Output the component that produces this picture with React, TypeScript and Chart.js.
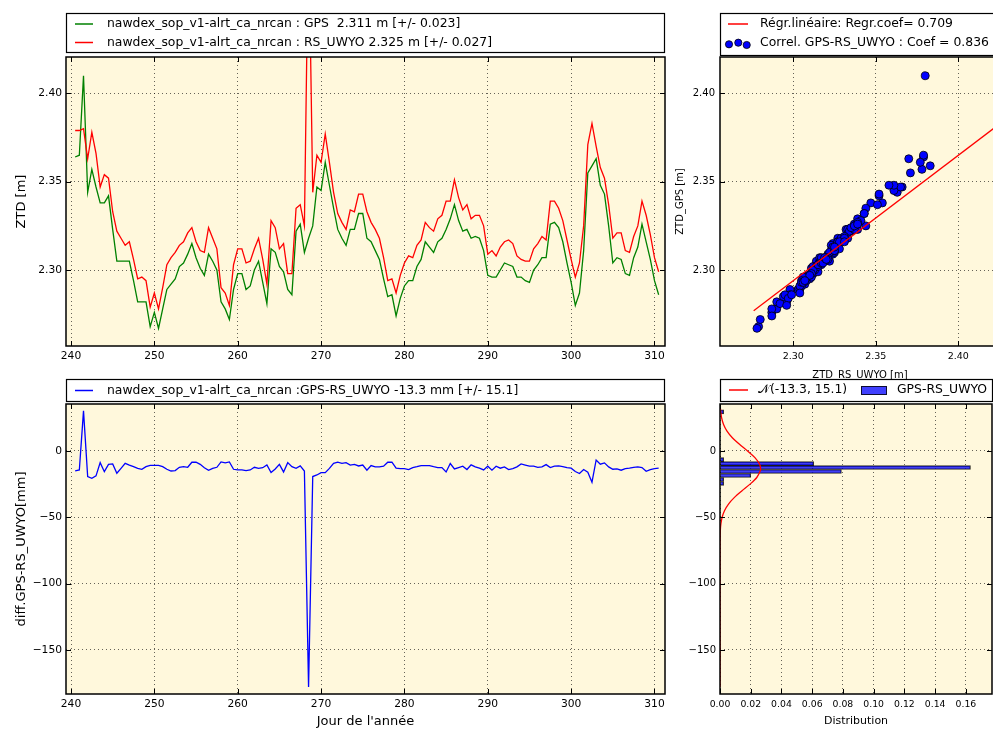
import React, { useEffect, useRef } from "react";
import { Chart, registerables } from "chart.js";

Chart.register(...registerables);

const FONT = '"DejaVu Sans", "Liberation Sans", sans-serif';
const GREEN = "#008000";
const RED = "#ff0000";
const BLUE = "#0000ff";
const HIST_FILL = "rgba(0,0,255,0.75)";
const HIST_EDGE = "rgba(0,0,0,0.8)";
const PLOT_BG = "#fff8dc";
const GRID_COLOR = "rgba(0,0,0,0.6)";

// ---------- data ----------
const DAYS = [
  240.5, 241.0, 241.5, 242.0, 242.5, 243.0, 243.5, 244.0, 244.5, 245.0,
  245.5, 246.0, 246.5, 247.0, 247.5, 248.0, 248.5, 249.0, 249.5, 250.0,
  250.5, 251.0, 251.5, 252.0, 252.5, 253.0, 253.5, 254.0, 254.5, 255.0,
  255.5, 256.0, 256.5, 257.0, 257.5, 258.0, 258.5, 259.0, 259.5, 260.0,
  260.5, 261.0, 261.5, 262.0, 262.5, 263.0, 263.5, 264.0, 264.5, 265.0,
  265.5, 266.0, 266.5, 267.0, 267.5, 268.0, 268.5, 269.0, 269.5, 270.0,
  270.5, 271.0, 271.5, 272.0, 272.5, 273.0, 273.5, 274.0, 274.5, 275.0,
  275.5, 276.0, 276.5, 277.0, 277.5, 278.0, 278.5, 279.0, 279.5, 280.0,
  280.5, 281.0, 281.5, 282.0, 282.5, 283.0, 283.5, 284.0, 284.5, 285.0,
  285.5, 286.0, 286.5, 287.0, 287.5, 288.0, 288.5, 289.0, 289.5, 290.0,
  290.5, 291.0, 291.5, 292.0, 292.5, 293.0, 293.5, 294.0, 294.5, 295.0,
  295.5, 296.0, 296.5, 297.0, 297.5, 298.0, 298.5, 299.0, 299.5, 300.0,
  300.5, 301.0, 301.5, 302.0, 302.5, 303.0, 303.5, 304.0, 304.5, 305.0,
  305.5, 306.0, 306.5, 307.0, 307.5, 308.0, 308.5, 309.0, 309.5, 310.0,
  310.5,
];

const GPS_ZTD = [
  2.364, 2.365, 2.410, 2.344, 2.357, 2.347, 2.338, 2.338, 2.342, 2.323,
  2.305, 2.305, 2.305, 2.305, 2.294, 2.282, 2.282, 2.282, 2.268, 2.276,
  2.267, 2.278, 2.289, 2.292, 2.295, 2.302, 2.304, 2.309, 2.315, 2.307,
  2.301, 2.297, 2.309, 2.305, 2.300, 2.282, 2.278, 2.272, 2.289, 2.298,
  2.298, 2.289, 2.291, 2.300, 2.305, 2.293, 2.281, 2.312, 2.310, 2.302,
  2.299, 2.289, 2.286, 2.322, 2.326, 2.310, 2.318, 2.325, 2.347, 2.345,
  2.361, 2.348, 2.335, 2.323, 2.318, 2.314, 2.323, 2.323, 2.332, 2.332,
  2.318, 2.316, 2.311, 2.306, 2.295, 2.285, 2.286, 2.274, 2.284, 2.291,
  2.294, 2.294, 2.302, 2.306, 2.316, 2.313, 2.310, 2.316, 2.318, 2.323,
  2.329, 2.337, 2.328, 2.322, 2.323, 2.318, 2.319, 2.318, 2.311, 2.297,
  2.296, 2.296, 2.300, 2.304, 2.303, 2.302, 2.296, 2.296, 2.294, 2.293,
  2.300, 2.303, 2.307, 2.307, 2.326, 2.327, 2.324, 2.316, 2.304, 2.293,
  2.280, 2.287, 2.311, 2.355, 2.359, 2.363, 2.348, 2.343, 2.325, 2.304,
  2.307, 2.306, 2.298, 2.297, 2.307, 2.313, 2.326, 2.316, 2.306, 2.294,
  2.286,
];

const RS_ZTD = [
  2.379, 2.379, 2.380, 2.363, 2.378, 2.366, 2.347, 2.354, 2.352, 2.333,
  2.322, 2.318, 2.314, 2.316, 2.306, 2.295, 2.296, 2.294, 2.279, 2.287,
  2.278, 2.290, 2.303, 2.307, 2.310, 2.314, 2.316, 2.321, 2.324, 2.316,
  2.311, 2.310, 2.324, 2.318, 2.312, 2.290, 2.287, 2.280, 2.303, 2.312,
  2.312, 2.304, 2.305, 2.312, 2.318, 2.306, 2.292, 2.328, 2.324, 2.312,
  2.315, 2.298, 2.298, 2.335, 2.337, 2.325, 2.496, 2.344, 2.365, 2.361,
  2.377, 2.361, 2.344, 2.332, 2.327, 2.323, 2.334, 2.333, 2.343, 2.343,
  2.333, 2.327, 2.323, 2.318, 2.307, 2.294, 2.295, 2.287, 2.297, 2.304,
  2.308, 2.307, 2.314, 2.317, 2.327, 2.324, 2.322, 2.329, 2.331, 2.339,
  2.339, 2.351, 2.341, 2.334, 2.337, 2.329, 2.331, 2.331, 2.325, 2.309,
  2.311, 2.308, 2.313, 2.316, 2.317, 2.315, 2.308, 2.306, 2.305, 2.305,
  2.312, 2.315, 2.319, 2.317, 2.339, 2.339, 2.335, 2.328, 2.317, 2.306,
  2.296, 2.304, 2.325, 2.371, 2.383, 2.370, 2.358, 2.352, 2.337, 2.318,
  2.321, 2.321, 2.311, 2.310, 2.319, 2.325, 2.339, 2.331, 2.320, 2.307,
  2.299,
];

const DIFF_MM = [
  -15.1, -14.3, 30.2, -19.3, -20.6, -18.8, -8.8, -15.6, -10.1, -9.8,
  -16.8, -13.1, -9.3, -10.6, -11.8, -13.1, -13.8, -11.8, -10.8, -10.8,
  -10.8, -11.8, -13.8, -15.1, -14.8, -12.3, -11.8, -12.3, -8.5, -8.5,
  -10.1, -12.6, -14.6, -13.1, -12.3, -8.3, -9.0, -8.3, -13.8, -14.3,
  -14.3, -14.8, -14.3, -12.3, -13.1, -12.6, -10.6, -16.3, -13.6, -10.1,
  -15.8, -8.8, -11.8, -13.1, -11.3, -15.1, -178.0, -19.3, -18.1, -16.3,
  -16.3, -13.1, -9.3, -8.5, -9.3, -8.8, -10.6, -10.1, -11.3, -10.6,
  -14.5, -11.0, -12.0, -12.0, -11.5, -8.5, -8.5, -13.0, -13.3, -13.3,
  -14.0, -12.5, -11.8, -11.0, -11.0, -11.0, -11.8, -12.5, -12.5, -15.8,
  -9.5, -13.5, -12.5, -11.5, -14.0, -10.5, -12.0, -13.0, -14.3, -11.5,
  -14.5, -11.5, -13.0, -12.0, -14.0, -13.3, -12.0, -9.8, -10.6, -11.5,
  -11.5, -12.3, -12.0, -10.3, -12.5, -11.5, -11.3, -11.8, -12.5, -13.0,
  -15.5, -17.0, -14.0, -16.0, -23.5, -6.8, -10.0, -9.0, -12.0, -13.8,
  -13.5, -14.5, -13.3, -13.0, -12.3, -12.0, -12.5, -15.3, -14.0, -13.3,
  -13.0,
];

// regression line end points (RS -> GPS)
const REGR_X = [2.276, 2.496];
const REGR_Y = [2.277, 2.433];

// histogram of the difference (bin centres in mm, normalised density)
const HIST_CENTERS = [29.5, -6.5, -9.5, -12.5, -15.5, -18.5, -21.5, -24.5];
const HIST_DENSITY = [0.0024, 0.0024, 0.061, 0.163, 0.079, 0.02, 0.0024, 0.0024];

// normal curve N(-13.3, 15.1)
const NORM_Y = [32, 30, 25, 20, 15, 10, 5, 0, -5, -10, -13.3, -15, -20, -25, -30, -35, -40, -45, -50, -55, -60, -70, -80, -100, -178];
const NORM_PDF = [
  0.00029, 0.00043, 0.00106, 0.00232, 0.00456, 0.00803, 0.01268, 0.01793, 0.02272, 0.0258,
  0.02642, 0.02625, 0.02394, 0.01957, 0.01433, 0.00941, 0.00553, 0.00292, 0.00138, 0.00058,
  0.00022, 0.00002, 0, 0, 0,
];

// tick labels
const DAY_TICKS = [240, 250, 260, 270, 280, 290, 300, 310];
const ZTD_TICKS = [2.3, 2.35, 2.4];
const DIFF_TICKS = [-150, -100, -50, 0];
const DIST_TICKS = [0, 0.02, 0.04, 0.06, 0.08, 0.1, 0.12, 0.14, 0.16];

// texts
const LEG_GPS = "nawdex_sop_v1-alrt_ca_nrcan : GPS  2.311 m [+/- 0.023]";
const LEG_RS = "nawdex_sop_v1-alrt_ca_nrcan : RS_UWYO 2.325 m [+/- 0.027]";
const LEG_REGR = "Régr.linéaire: Regr.coef= 0.709";
const LEG_CORR = "Correl. GPS-RS_UWYO : Coef = 0.836";
const LEG_DIFF = "nawdex_sop_v1-alrt_ca_nrcan :GPS-RS_UWYO -13.3 mm [+/- 15.1]";
const LEG_NORM = "\u{1D4A9}(-13.3, 15.1)";
const LEG_HIST = "GPS-RS_UWYO";
const T_ZTD = "ZTD [m]";
const T_DIFF = "diff.GPS-RS_UWYO[mm]";
const T_DAY = "Jour de l'année";
const T_DIST = "Distribution";
const T_SC_X = "ZTD_RS_UWYO [m]";
const T_SC_Y = "ZTD_GPS [m]";

const LEGEND_FONT = 12.4;

// ---------- helpers ----------
type LegendItem = {
  kind: "line" | "dots" | "patch";
  color: string;
  text: string;
  y: number;
  tx: number;
  x0?: number;
  x1?: number;
  dots?: number[][];
  patch?: number[];
};
type LegendSpec = { ox: number; oy: number; box: number[]; items: LegendItem[] };

function decor(legend: LegendSpec) {
  return {
    id: "mplDecor",
    beforeDraw(chart: any) {
      const { ctx, chartArea: a } = chart;
      ctx.save();
      ctx.fillStyle = PLOT_BG;
      ctx.fillRect(a.left, a.top, a.right - a.left, a.bottom - a.top);
      ctx.restore();
    },
    afterDraw(chart: any) {
      const { ctx, chartArea: a } = chart;
      ctx.save();
      ctx.strokeStyle = "#000";
      ctx.lineWidth = 1;
      const L = 5;
      const seg = (x0: number, y0: number, x1: number, y1: number) => {
        ctx.beginPath();
        ctx.moveTo(x0, y0);
        ctx.lineTo(x1, y1);
        ctx.stroke();
      };
      Object.values(chart.scales).forEach((s: any) => {
        s.ticks.forEach((t: any) => {
          const p = Math.round(s.getPixelForValue(t.value)) + 0.5;
          if (s.isHorizontal()) {
            if (p < a.left || p > a.right) return;
            seg(p, a.bottom, p, a.bottom - L);
            seg(p, a.top, p, a.top + L);
          } else {
            if (p < a.top || p > a.bottom) return;
            seg(a.left, p, a.left + L, p);
            seg(a.right, p, a.right - L, p);
          }
        });
      });
      ctx.lineWidth = 1.5;
      ctx.strokeRect(a.left, a.top, a.right - a.left, a.bottom - a.top);

      // legend
      ctx.translate(-legend.ox, -legend.oy);
      const [bx0, by0, bx1, by1] = legend.box;
      ctx.fillStyle = "#fff";
      ctx.fillRect(bx0, by0, bx1 - bx0, by1 - by0);
      ctx.lineWidth = 1.2;
      ctx.strokeStyle = "#000";
      ctx.strokeRect(bx0 + 0.5, by0 + 0.5, bx1 - bx0 - 1, by1 - by0 - 1);
      ctx.font = `${LEGEND_FONT}px ${FONT}`;
      ctx.textBaseline = "middle";
      ctx.textAlign = "left";
      legend.items.forEach((it) => {
        if (it.kind === "line") {
          ctx.strokeStyle = it.color;
          ctx.lineWidth = 1.5;
          seg(it.x0!, it.y, it.x1!, it.y);
        } else if (it.kind === "dots") {
          it.dots!.forEach(([dx, dy]) => {
            ctx.beginPath();
            ctx.arc(dx, dy, 3.6, 0, Math.PI * 2);
            ctx.fillStyle = it.color;
            ctx.fill();
            ctx.lineWidth = 0.8;
            ctx.strokeStyle = "#000";
            ctx.stroke();
          });
        } else if (it.kind === "patch") {
          const [px, py, pw, ph] = it.patch!;
          ctx.fillStyle = it.color;
          ctx.fillRect(px, py, pw, ph);
          ctx.lineWidth = 1;
          ctx.strokeStyle = HIST_EDGE;
          ctx.strokeRect(px + 0.5, py + 0.5, pw - 1, ph - 1);
        }
        ctx.fillStyle = "#000";
        ctx.fillText(it.text, it.tx, it.y);
      });
      ctx.restore();
    },
  };
}

type ScaleOpts = {
  axis: "x" | "y";
  min: number;
  max: number;
  ticks: number[];
  fmt: (v: number) => string;
  size: number;
  pad: number;
  fit: number;
  title?: { text: string; size: number; pad: number };
};

function linScale(o: ScaleOpts) {
  return {
    type: "linear",
    position: o.axis === "x" ? "bottom" : "left",
    min: o.min,
    max: o.max,
    offset: false,
    afterBuildTicks: (s: any) => {
      s.ticks = o.ticks.map((v) => ({ value: v }));
    },
    afterFit: (s: any) => {
      if (o.axis === "x") s.height = o.fit;
      else s.width = o.fit;
    },
    ticks: {
      autoSkip: false,
      maxRotation: 0,
      minRotation: 0,
      padding: o.pad,
      color: "#000",
      font: { family: FONT, size: o.size },
      callback: (v: any) => o.fmt(Number(v)),
    },
    grid: { display: true, drawTicks: false, color: GRID_COLOR, lineWidth: 1, offset: false },
    border: { display: false, dash: [1, 3] },
    title: o.title
      ? {
          display: true,
          text: o.title.text,
          color: "#000",
          font: { family: FONT, size: o.title.size, lineHeight: 1 },
          padding: o.axis === "x" ? { top: 0, bottom: o.title.pad } : { top: o.title.pad, bottom: 0 },
        }
      : { display: false },
  };
}

const f2 = (v: number) => v.toFixed(2);
const fInt = (v: number) => (v < 0 ? "\u2212" + Math.abs(v) : String(v));

function baseOptions(padding: any, scales: any) {
  return {
    animation: false,
    responsive: false,
    maintainAspectRatio: false,
    devicePixelRatio: 1,
    layout: { padding },
    plugins: { legend: { display: false }, tooltip: { enabled: false }, title: { display: false } },
    events: [],
    scales,
  };
}

export default function App() {
  const refA = useRef<HTMLCanvasElement>(null);
  const refB = useRef<HTMLCanvasElement>(null);
  const refC = useRef<HTMLCanvasElement>(null);
  const refD = useRef<HTMLCanvasElement>(null);

  useEffect(() => {
    const xDays = (fit: number, title?: any) =>
      linScale({ axis: "x", min: 239.4, max: 311.26, ticks: DAY_TICKS, fmt: fInt, size: 10.7, pad: 4, fit, title });

    // ---- A: time series ZTD ----
    const chartA = new Chart(refA.current!, {
      type: "scatter",
      data: {
        datasets: [
          {
            label: "RS",
            data: DAYS.map((d, i) => ({ x: d, y: RS_ZTD[i] })),
            showLine: true,
            borderColor: RED,
            borderWidth: 1.3,
            pointRadius: 0,
            order: 0,
            clip: 0,
          },
          {
            label: "GPS",
            data: DAYS.map((d, i) => ({ x: d, y: GPS_ZTD[i] })),
            showLine: true,
            borderColor: GREEN,
            borderWidth: 1.3,
            pointRadius: 0,
            order: 1,
            clip: 0,
          },
        ],
      },
      options: baseOptions(
        { top: 57, right: 15, bottom: 0, left: 0 },
        {
          x: xDays(24),
          y: linScale({
            axis: "y", min: 2.257, max: 2.4206, ticks: ZTD_TICKS, fmt: f2, size: 10.7, pad: 4, fit: 66,
            title: { text: T_ZTD, size: 13, pad: 15 },
          }),
        }
      ) as any,
      plugins: [
        decor({
          ox: 0, oy: 0, box: [66, 13, 665, 53],
          items: [
            { kind: "line", color: GREEN, x0: 75, x1: 93, y: 24, tx: 107, text: LEG_GPS },
            { kind: "line", color: RED, x0: 75, x1: 93, y: 42.5, tx: 107, text: LEG_RS },
          ],
        }),
      ],
    } as any);

    // ---- B: scatter ----
    const chartB = new Chart(refB.current!, {
      type: "scatter",
      data: {
        datasets: [
          {
            label: "regr",
            data: REGR_X.map((x, i) => ({ x, y: REGR_Y[i] })),
            showLine: true,
            borderColor: RED,
            borderWidth: 1.3,
            pointRadius: 0,
            order: 0,
            clip: 0,
          },
          {
            label: "corr",
            data: DAYS.map((_, i) => ({ x: RS_ZTD[i], y: GPS_ZTD[i] })),
            showLine: false,
            pointRadius: 4,
            pointBackgroundColor: BLUE,
            pointBorderColor: "#000",
            pointBorderWidth: 0.8,
            order: 1,
            clip: 0,
          },
        ],
      },
      options: baseOptions(
        { top: 57, right: 10, bottom: 0, left: 0 },
        {
          x: linScale({
            axis: "x", min: 2.2556, max: 2.4253, ticks: ZTD_TICKS, fmt: f2, size: 9.5, pad: 5, fit: 34,
            title: { text: T_SC_X, size: 10, pad: 0 },
          }),
          y: linScale({
            axis: "y", min: 2.257, max: 2.4206, ticks: ZTD_TICKS, fmt: f2, size: 10, pad: 5, fit: 50,
            title: { text: T_SC_Y, size: 10, pad: 5 },
          }),
        }
      ) as any,
      plugins: [
        decor({
          ox: 670, oy: 0, box: [720, 13, 1010, 56],
          items: [
            { kind: "line", color: RED, x0: 728, x1: 748, y: 24, tx: 760, text: LEG_REGR },
            { kind: "dots", color: BLUE, dots: [[729, 44.3], [738.3, 42.7], [746.7, 45]], y: 43, tx: 760, text: LEG_CORR },
          ],
        }),
      ],
    } as any);

    // ---- C: difference ----
    const chartC = new Chart(refC.current!, {
      type: "scatter",
      data: {
        datasets: [
          {
            label: "diff",
            data: DAYS.map((d, i) => ({ x: d, y: DIFF_MM[i] })),
            showLine: true,
            borderColor: BLUE,
            borderWidth: 1.3,
            pointRadius: 0,
            clip: 0,
          },
        ],
      },
      options: baseOptions(
        { top: 34, right: 15, bottom: 0, left: 0 },
        {
          x: xDays(37, { text: T_DAY, size: 13, pad: 3 }),
          y: linScale({
            axis: "y", min: -183.2, max: 35.4, ticks: DIFF_TICKS, fmt: fInt, size: 10.7, pad: 4, fit: 66,
            title: { text: T_DIFF, size: 13, pad: 15 },
          }),
        }
      ) as any,
      plugins: [
        decor({
          ox: 0, oy: 370, box: [66, 379, 665, 402],
          items: [{ kind: "line", color: BLUE, x0: 75, x1: 93, y: 390.5, tx: 107, text: LEG_DIFF }],
        }),
      ],
    } as any);

    // ---- D: histogram ----
    const chartD = new Chart(refD.current!, {
      type: "scatter",
      data: {
        datasets: [
          {
            type: "scatter",
            label: "norm",
            data: NORM_Y.map((y, i) => ({ x: NORM_PDF[i], y })),
            showLine: true,
            borderColor: RED,
            borderWidth: 1.3,
            pointRadius: 0,
            tension: 0.3,
            order: 0,
            clip: 0,
          },
          {
            type: "bar",
            label: "hist",
            indexAxis: "y",
            data: HIST_CENTERS.map((c, i) => ({ x: HIST_DENSITY[i], y: c })),
            backgroundColor: HIST_FILL,
            borderColor: HIST_EDGE,
            borderWidth: 1,
            barPercentage: 1,
            categoryPercentage: 1,
            order: 1,
            clip: 0,
          },
        ],
      },
      options: baseOptions(
        { top: 34, right: 1, bottom: 0, left: 0 },
        {
          x: linScale({
            axis: "x", min: 0, max: 0.177, ticks: DIST_TICKS, fmt: f2, size: 9.3, pad: 5, fit: 37,
            title: { text: T_DIST, size: 11, pad: 4 },
          }),
          y: linScale({
            axis: "y", min: -183.2, max: 35.4, ticks: DIFF_TICKS, fmt: fInt, size: 10, pad: 4, fit: 40,
          }),
        }
      ) as any,
      plugins: [
        decor({
          ox: 680, oy: 370, box: [720, 379, 993, 402],
          items: [
            { kind: "line", color: RED, x0: 729, x1: 748, y: 390, tx: 758, text: LEG_NORM },
            { kind: "patch", color: HIST_FILL, patch: [861, 386, 26, 9], y: 390, tx: 897, text: LEG_HIST },
          ],
        }),
      ],
    } as any);

    return () => {
      chartA.destroy();
      chartB.destroy();
      chartC.destroy();
      chartD.destroy();
    };
  }, []);

  return (
    <div
      style={{
        position: "absolute",
        left: 0,
        top: 0,
        width: 993,
        height: 731,
        overflow: "hidden",
        background: "#fff",
      }}
    >
      <canvas ref={refA} width={680} height={370} style={{ position: "absolute", left: 0, top: 0, width: 680, height: 370 }} />
      <canvas ref={refB} width={340} height={380} style={{ position: "absolute", left: 670, top: 0, width: 340, height: 380 }} />
      <canvas ref={refC} width={680} height={361} style={{ position: "absolute", left: 0, top: 370, width: 680, height: 361 }} />
      <canvas ref={refD} width={313} height={361} style={{ position: "absolute", left: 680, top: 370, width: 313, height: 361 }} />
    </div>
  );
}
